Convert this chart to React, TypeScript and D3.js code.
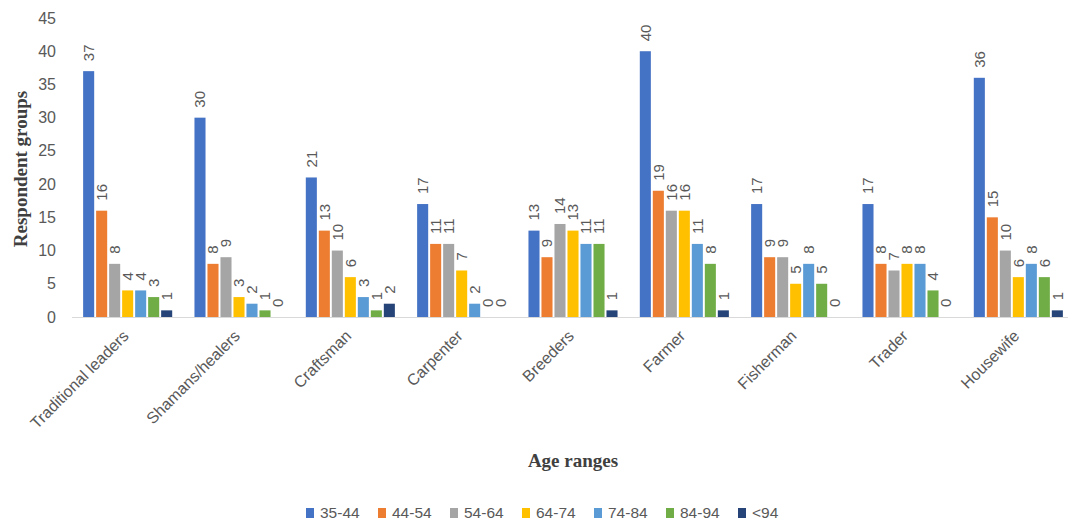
import React from "react";
import * as d3 from "d3";

const categories = ["Traditional leaders", "Shamans/healers", "Craftsman", "Carpenter", "Breeders", "Farmer", "Fisherman", "Trader", "Housewife"];
const seriesNames = ["35-44", "44-54", "54-64", "64-74", "74-84", "84-94", "<94"];
const s3544 = [37, 30, 21, 17, 13, 40, 17, 17, 36];
const s4454 = [16, 8, 13, 11, 9, 19, 9, 8, 15];
const s5464 = [8, 9, 10, 11, 14, 16, 9, 7, 10];
const s6474 = [4, 3, 6, 7, 13, 16, 5, 8, 6];
const s7484 = [4, 2, 3, 2, 11, 11, 8, 8, 8];
const s8494 = [3, 1, 1, 0, 11, 8, 5, 4, 6];
const s94 = [1, 0, 2, 0, 1, 1, 0, 0, 1];
const yTicks = [0, 5, 10, 15, 20, 25, 30, 35, 40, 45];
const colors = ["#4472C4", "#ED7D31", "#A5A5A5", "#FFC000", "#5B9BD5", "#70AD47", "#264478"];

const seriesValues = [s3544, s4454, s5464, s6474, s7484, s8494, s94];

export default function App() {
  const W = 1068, H = 522;
  const x0 = d3.scaleBand<string>().domain(categories).range([72, 1074]).paddingInner(0.2).paddingOuter(0.1);
  const x1 = d3.scaleBand<string>().domain(seriesNames).range([0, x0.bandwidth()]).paddingInner(0.15);
  const y = d3.scaleLinear().domain([0, 45]).range([317, 18]);
  const font = "'Liberation Sans', Arial, sans-serif";
  const serif = "'Liberation Serif', 'Times New Roman', serif";
  const grey = "#595959";
  return (
    <svg width={W} height={H} style={{ position: "absolute", left: 0, top: 0, background: "#fff" }} fontFamily={font}>
      <rect x={0} y={0} width={W} height={H} fill="#fff" />
      {yTicks.map((t) => (
        <text key={t} x={56} y={y(t)} dy="0.35em" textAnchor="end" fontSize={16} fill={grey}>{t}</text>
      ))}
      <line x1={72} x2={1068} y1={y(0) + 0.5} y2={y(0) + 0.5} stroke="#d9d9d9" strokeWidth={1} />
      {categories.map((c, ci) => (
        <g key={c} transform={`translate(${x0(c)},0)`}>
          {seriesNames.map((s, si) => {
            const v = seriesValues[si][ci];
            const bx = x1(s)!;
            const bw = x1.bandwidth();
            return (
              <g key={s}>
                {v > 0 && <rect x={bx} y={y(v)} width={bw} height={y(0) - y(v)} fill={colors[si]} />}
                <text transform={`translate(${bx + bw / 2},${y(v) - 10}) rotate(-90)`} dy="0.35em" fontSize={15} fill={grey} textAnchor="start">{v}</text>
              </g>
            );
          })}
        </g>
      ))}
      {categories.map((c) => (
        <text key={c} transform={`translate(${x0(c)! + x0.bandwidth() / 2 + 2},${337}) rotate(-45)`} textAnchor="end" fontSize={16} fill={grey}>{c}</text>
      ))}
      <text transform={`translate(27,${169}) rotate(-90)`} textAnchor="middle" fontFamily={serif} fontWeight="bold" fontSize={19} fill="#404040">Respondent groups</text>
      <text x={573} y={467} textAnchor="middle" fontFamily={serif} fontWeight="bold" fontSize={19} fill="#404040">Age ranges</text>
      {seriesNames.map((s, i) => (
        <g key={s} transform={`translate(${306 + i * 72},513)`}>
          <rect x={0} y={-5} width={8} height={10} fill={colors[i]} />
          <text x={14} y={0} dy="0.35em" fontSize={15.5} fill={grey}>{s}</text>
        </g>
      ))}
    </svg>
  );
}
